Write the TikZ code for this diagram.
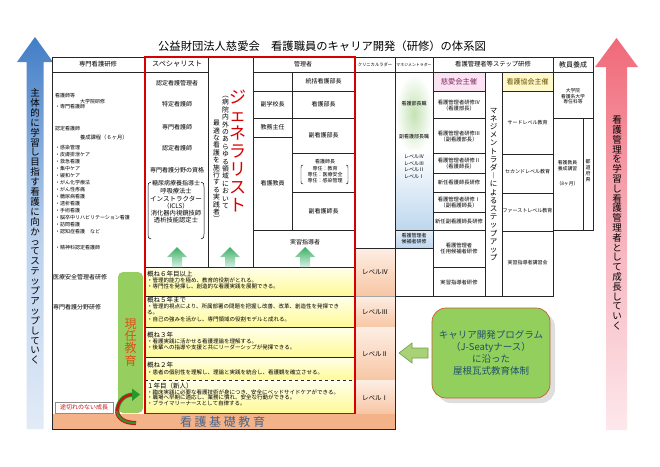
\documentclass[tikz,border=0pt]{standalone}
\usepackage{fontspec}
\setmainfont{Noto Sans CJK JP}
\usetikzlibrary{arrows.meta,shadows}
\definecolor{redb}{RGB}{214,0,0}
\definecolor{bluA}{RGB}{66,125,198}
\definecolor{bluB}{RGB}{185,208,236}
\definecolor{bluC}{RGB}{226,235,247}
\definecolor{pnkA}{RGB}{240,105,120}
\definecolor{pnkB}{RGB}{247,178,188}
\definecolor{pnkC}{RGB}{253,232,236}
\definecolor{ylt}{RGB}{255,255,236}
\definecolor{ydk}{RGB}{255,250,150}
\definecolor{lvt}{RGB}{253,238,228}
\definecolor{lvb}{RGB}{247,198,164}
\definecolor{bandc}{RGB}{244,178,136}
\definecolor{bandtxt}{RGB}{70,100,140}
\definecolor{mgG}{RGB}{196,226,180}
\definecolor{mgB}{RGB}{189,215,238}
\definecolor{mgBl}{RGB}{228,238,248}
\definecolor{pnkcell}{RGB}{250,226,242}
\definecolor{pnktxt}{RGB}{125,40,95}
\definecolor{ylwcell}{RGB}{255,248,200}
\definecolor{ylwtxt}{RGB}{95,75,0}
\definecolor{genG}{RGB}{150,206,96}
\definecolor{genT}{RGB}{222,80,20}
\definecolor{garrA}{RGB}{60,175,100}
\definecolor{garrB}{RGB}{215,240,228}
\definecolor{progF}{RGB}{147,207,92}
\definecolor{progD}{RGB}{200,90,50}
\definecolor{progT}{RGB}{30,80,110}
\definecolor{lgA}{RGB}{169,209,120}
\definecolor{lgB}{RGB}{110,160,70}
\definecolor{curG}{RGB}{40,150,40}
\definecolor{curR}{RGB}{200,20,20}
\newcommand\fz[1]{\fontsize{#1}{#1}\selectfont}
\newcommand\VStack[2]{\vbox{\baselineskip=#1pt\lineskiplimit=-100pt\lineskip=0pt\relax\VStackAux#2\relax}}
\def\VStackAux#1{\ifx\relax#1\else\hbox to 1em{\hss#1\hss}\expandafter\VStackAux\fi}
\newcommand\UpArr[1]{\shade[top color=garrA, bottom color=garrB] (#1,247) -- (#1+10,257) -- (#1+5,257) -- (#1+5,267) -- (#1-5,267) -- (#1-5,257) -- (#1-10,257) -- cycle;}
\begin{document}
\begin{tikzpicture}[x=1pt,y=-1pt,
  ct/.style={inner sep=0pt, outer sep=0pt},
  lt/.style={inner sep=0pt, outer sep=0pt, anchor=west},
  gl/.style={line width=0.55pt, draw=black!85}]
\useasboundingbox (0,0) rectangle (660,466);
\fill[white] (0,0) rectangle (660,466);

% side arrows
\shade[top color=bluA, bottom color=bluC, middle color=bluB] (26.5,429) -- (26.5,62) -- (17,62) -- (35,37) -- (53,62) -- (43.5,62) -- (43.5,429) -- cycle;
\shade[top color=pnkA, bottom color=pnkC, middle color=pnkB] (606,430) -- (606,67) -- (595,67) -- (616.5,38) -- (638,67) -- (627,67) -- (627,430) -- cycle;
\node[ct, font=\fz{9.5}] (lefttxt) at (35,226.5) {\VStack{9.9}{主体的に学習し目指す看護に向かってステップアップしていく}};
\node[ct, font=\fz{9.5}] (righttxt) at (617,223) {\VStack{9.8}{看護管理を学習し看護管理者として成長していく}};

% title
\node[ct, font=\fz{11.3}] (title) at (322,46) {公益財団法人慈愛会　看護職員のキャリア開発（研修）の体系図};

% fills
\shade[top color=ylt, bottom color=ydk] (145,267) rectangle (355,296);
\shade[top color=ylt, bottom color=ydk] (145,296) rectangle (355,327);
\shade[top color=ylt, bottom color=ydk] (145,327) rectangle (355,357);
\shade[top color=ylt, bottom color=ydk] (145,357) rectangle (355,380);
\shade[top color=ylt, bottom color=ydk] (145,380) rectangle (355,413.5);
\shade[top color=lvt, bottom color=lvb] (355,248) rectangle (395,296);
\shade[top color=lvt, bottom color=lvb] (355,296) rectangle (395,327);
\shade[top color=lvt, bottom color=lvb] (355,327) rectangle (395,380);
\shade[top color=lvt, bottom color=lvb] (355,380) rectangle (395,413.5);
\fill[bandc] (52,413.5) rectangle (395,429.5);
\shade[inner color=mgG, outer color=white] (395.5,74) rectangle (432.5,154);
\shade[top color=white, bottom color=mgB] (395.5,150) rectangle (432.5,230);
\shade[top color=mgBl, bottom color=mgB] (395.5,230) rectangle (432.5,248);
\fill[pnkcell] (433,72) rectangle (485,91);
\fill[ylwcell] (502,72) rectangle (553,91);

% grid
\draw[gl] (52,57) -- (593,57);
\draw[gl] (52,72) -- (208,72);
\draw[gl] (253,72) -- (593,72);
\draw[gl] (52,57) -- (52,429.5) -- (395,429.5) -- (395,57);
\draw[gl] (593,57) -- (593,230) -- (553,230);
\draw[gl] (553,57) -- (553,296) -- (395,296);
\draw[gl] (553,118) -- (593,118);
\draw[gl] (583,118) -- (583,230);
\draw[gl] (208,57) -- (208,267);
\draw[gl] (253,57) -- (253,267);
\draw[gl] (292,72) -- (292,230);
\draw[gl] (253,91) -- (355,91);
\draw[gl] (253,118) -- (355,118);
\draw[gl] (253,137) -- (292,137);
\draw[gl] (292,153) -- (355,153);
\draw[gl] (292,192) -- (355,192);
\draw[gl] (253,230) -- (355,230);
\draw[gl] (145,267) -- (355,267);
\draw[gl] (433,57) -- (433,296);
\draw[gl] (485,72) -- (485,296);
\draw[gl] (502,72) -- (502,296);
\draw[gl] (355,248) -- (395,248);
\draw[gl] (395,230) -- (433,230);
\draw[gl] (395,248) -- (433,248);
\foreach \yy in {91,118,153,173,192,212,230,267} \draw[gl] (433,\yy) -- (485,\yy);
\foreach \yy in {91,154,193,231} \draw[gl] (502,\yy) -- (553,\yy);
\draw[gl] (145,296) -- (355,296);
\draw[gl] (145,327) -- (355,327);
\draw[gl] (145,357) -- (355,357);
\draw[gl, dashed] (145,380) -- (355,380);
\draw[line width=0.3pt, black!35] (355,296) -- (395,296);
\draw[line width=1.6pt, redb] (145,57) rectangle (355,413.5);

% headers
\node[ct, font=\fz{6.3}] (h1) at (98,64.5) {専門看護研修};
\node[ct, font=\fz{7.2}] (h2) at (177,64.5) {スペシャリスト};
\node[ct, font=\fz{6}] (h3) at (303,64.5) {管理者};
\node[ct, font=\fz{4.3}] (h4) at (375,64.5) {クリニカルラダー};
\node[ct, font=\fz{3.9}] (h5) at (414,64.5) {マネジメントラダー};
\node[ct, font=\fz{6.3}] (h6) at (493,64.5) {看護管理者等ステップ研修};
\node[ct, font=\fz{7}] (h7) at (573,64.5) {教員養成};

% left column
\node[lt, font=\fz{5}] (l1) at (55,96) {看護師等};
\node[lt, font=\fz{5}] (l2) at (80,101.5) {大学院研修};
\node[lt, font=\fz{5}] (l3) at (55,107) {・専門看護師};
\node[lt, font=\fz{5}] (l4) at (55,129) {認定看護師};
\node[lt, font=\fz{5.3}] (l5) at (80,137) {養成課程（６ヶ月）};
\foreach \t [count=\i from 0] in {・感染管理,・皮膚排泄ケア,・救急看護,・集中ケア,・緩和ケア,・がん化学療法,・がん性疼痛,・糖尿病看護,・透析看護,・手術看護,・脳卒中リハビリテーション看護,・訪問看護,・認知症看護　など}
  \node[lt, font=\fz{5}] (lst\i) at (55,148+7*\i) {\t};
\node[lt, font=\fz{5}] (l6) at (55,248) {・精神科認定看護師};
\node[lt, font=\fz{6}] (l7) at (53,277) {医療安全管理者研修};
\node[lt, font=\fz{6}] (l8) at (53,307) {専門看護分野研修};

% specialist column
\node[ct, font=\fz{6}] (s1) at (177,83) {認定看護管理者};
\node[ct, font=\fz{6}] (s2) at (177,104) {特定看護師};
\node[ct, font=\fz{6}] (s3) at (177,127) {専門看護師};
\node[ct, font=\fz{6}] (s4) at (177,148) {認定看護師};
\node[ct, font=\fz{6}] (s5) at (177,170) {専門看護分野の資格};
\node[ct, font=\fz{6}] (s6) at (176,183.5) {糖尿病療養指導士};
\node[ct, font=\fz{6.3}] (s7) at (176,191) {呼吸療法士};
\node[ct, font=\fz{6.5}] (s8) at (176,198.5) {インストラクター};
\node[ct, font=\fz{6.3}] (s9) at (176,206) {（ICLS）};
\node[ct, font=\fz{6.3}] (s10) at (176,213) {消化器内視鏡技師};
\node[ct, font=\fz{6.3}] (s11) at (176,220.5) {透析技能認定士};
\draw[line width=0.5pt] (151,182) .. controls (148,182) and (148,184) .. (148,187) -- (148,234) .. controls (148,237) and (148,239) .. (151,239);
\draw[line width=0.5pt] (201,182) .. controls (204,182) and (204,184) .. (204,187) -- (204,234) .. controls (204,237) and (204,239) .. (201,239);

% generalist column
\node[ct, font=\fz{17}, text=redb] (gen) at (237.5,151) {\VStack{18}{ジェネラリスト}};
\node[ct, font=\fz{6.8}] (genp1) at (225.5,152.5) {\VStack{7.4}{︵病院内外のあらゆる領域において}};
\node[ct, font=\fz{6.8}] (genp2) at (216.5,171) {\VStack{7.4}{最適な看護を施行する実践者︶}};

% manager column
\node[ct, font=\fz{6}] (m1) at (323.5,81.5) {統括看護部長};
\node[ct, font=\fz{6}] (m2) at (272.5,104.5) {副学校長};
\node[ct, font=\fz{6}] (m3) at (323.5,104.5) {看護部長};
\node[ct, font=\fz{6}] (m4) at (272.5,127.5) {教務主任};
\node[ct, font=\fz{6}] (m5) at (323.5,135.5) {副看護部長};
\node[ct, font=\fz{6}] (m6) at (272.5,183) {看護教員};
\node[ct, font=\fz{5}] (m7) at (325,162) {看護師長};
\node[ct, font=\fz{5}] (m8) at (325,168.5) {専任：教育};
\node[ct, font=\fz{5}] (m9) at (325,174.5) {専任：医療安全};
\node[ct, font=\fz{5}] (m10) at (325,180.5) {専任：感染管理};
\draw[line width=0.45pt] (303,165) .. controls (301,165) and (301,166) .. (301,168) -- (301,181) .. controls (301,183) and (301,184) .. (303,184);
\draw[line width=0.45pt] (346,165) .. controls (348,165) and (348,166) .. (348,168) -- (348,181) .. controls (348,183) and (348,184) .. (346,184);
\node[ct, font=\fz{6}] (m11) at (323.5,211) {副看護師長};
\node[ct, font=\fz{6}] (m12) at (305,242) {実習指導者};

\UpArr{177}
\UpArr{230}
\UpArr{305}

% yellow rows
\node[lt, font=\fz{6.5}] (y1h) at (147,274) {概ね６年目以上};
\node[lt, font=\fz{5.5}] (y1a) at (147,280.5) {・管理的能力を極め、教育的役割がとれる。};
\node[lt, font=\fz{5.5}] (y1b) at (147,286) {・専門性を発揮し、創造的な看護実践を展開できる。};
\node[lt, font=\fz{6.5}] (y2h) at (147,300.5) {概ね５年まで};
\node[lt, font=\fz{5.5}] (y2a) at (147,306.5) {・管理的視点により、所属部署の問題を把握し改善、改革、創造性を発揮でき};
\node[lt, font=\fz{5.5}] (y2b) at (147,312.5) {る。};
\node[lt, font=\fz{5.5}] (y2c) at (147,319.5) {・自己の強みを活かし、専門領域の役割モデルと成れる。};
\node[lt, font=\fz{6.5}] (y3h) at (147,335.5) {概ね３年};
\node[lt, font=\fz{5.5}] (y3a) at (147,341.5) {・看護実践に活かせる看護理論を理解する。};
\node[lt, font=\fz{5.5}] (y3b) at (147,347) {・後輩への指導や支援と共にリーダーシップが発揮できる。};
\node[lt, font=\fz{6.5}] (y4h) at (147,365) {概ね２年};
\node[lt, font=\fz{5.5}] (y4a) at (147,372) {・患者の個別性を理解し、理論と実践を統合し、看護観を確立させる。};
\node[lt, font=\fz{6.5}] (y5h) at (147,386) {１年目（新人）};
\node[lt, font=\fz{5.5}] (y5a) at (147,392) {・臨床実践に必要な看護技術が身につき、安全にベッドサイドケアができる。};
\node[lt, font=\fz{5.5}] (y5b) at (147,397.5) {・職場へ早期に適応し、業務に慣れ、安全な行動ができる。};
\node[lt, font=\fz{5.5}] (y5c) at (147,403) {・プライマリーナースとして自律する。};

% levels
\node[ct, font=\fz{6.5}] (lv4) at (375,272) {レベルⅣ};
\node[ct, font=\fz{6.5}] (lv3) at (375,312) {レベルⅢ};
\node[ct, font=\fz{6.5}] (lv2) at (375,354) {レベルⅡ};
\node[ct, font=\fz{6.5}] (lv1) at (375,398) {レベルⅠ};

% management ladder
\node[ct, font=\fz{5}] (ml1) at (414,104) {看護部長職};
\node[ct, font=\fz{5}] (ml2) at (414,137) {副看護部長職};
\node[lt, font=\fz{5}] (ml3) at (404,157) {レベルⅣ};
\node[lt, font=\fz{5}] (ml4) at (404,163.5) {レベルⅢ};
\node[lt, font=\fz{5}] (ml5) at (404,170) {レベルⅡ};
\node[lt, font=\fz{5}] (ml6) at (404,176.5) {レベルⅠ};
\node[ct, font=\fz{5}] (ml7) at (414,235.5) {看護管理者};
\node[ct, font=\fz{5}] (ml8) at (414,242) {候補者研修};

% jiaikai column
\node[ct, font=\fz{7.3}, text=pnktxt] (j0) at (459,81.5) {慈愛会主催};
\node[ct, font=\fz{5.3}] (j1) at (459,102) {看護管理者研修Ⅳ};
\node[ct, font=\fz{5.3}] (j1b) at (459,108) {（看護部長）};
\node[ct, font=\fz{5.3}] (j2) at (459,133) {看護管理者研修Ⅲ};
\node[ct, font=\fz{5.3}] (j2b) at (459,139) {（副看護部長）};
\node[ct, font=\fz{5.3}] (j3) at (459,160) {看護管理者研修Ⅱ};
\node[ct, font=\fz{5.3}] (j3b) at (459,166) {（看護師長）};
\node[ct, font=\fz{5.3}] (j4) at (459,182.5) {新任看護師長研修};
\node[ct, font=\fz{5.3}] (j5) at (459,199) {看護管理者研修Ⅰ};
\node[ct, font=\fz{5.3}] (j5b) at (459,205) {（副看護師長）};
\node[ct, font=\fz{5.3}] (j6) at (459,221) {新任副看護師長研修};
\node[ct, font=\fz{5.3}] (j7) at (459,245) {看護管理者};
\node[ct, font=\fz{5.3}] (j7b) at (459,251.5) {任用候補者研修};
\node[ct, font=\fz{5.3}] (j8) at (459,282) {実習指導者研修};
\node[ct, font=\fz{7.5}] (mvert) at (493.5,184.5) {\VStack{8.2}{マネジメントラダ︱によるステップアップ}};

% kango kyokai column
\node[ct, font=\fz{7}, text=ylwtxt] (k0) at (527.5,81.5) {看護協会主催};
\node[ct, font=\fz{5}] (k1) at (527.5,123) {サードレベル教育};
\node[ct, font=\fz{5}] (k2) at (527.5,172) {セカンドレベル教育};
\node[ct, font=\fz{5}] (k3) at (527.5,211) {ファーストレベル教育};
\node[ct, font=\fz{5}] (k4) at (527.5,263) {実習指導者講習会};

% teacher column
\node[ct, font=\fz{4.8}] (t1) at (573,91) {大学院};
\node[ct, font=\fz{4.8}] (t2) at (573,96.5) {看護系大学};
\node[ct, font=\fz{4.8}] (t3) at (573,102) {専任科等};
\node[ct, font=\fz{4.8}] (t4) at (567.5,163) {看護教員};
\node[ct, font=\fz{4.8}] (t5) at (567.5,168.5) {養成講習};
\node[ct, font=\fz{4.8}] (t6) at (567.5,184) {（8ヶ月）};
\node[ct, font=\fz{5}] (t7) at (588,171) {\VStack{6}{都道府県}};

% genin kyoiku box
\node[ct, fill=genG, rounded corners=5pt, minimum width=25pt, minimum height=141pt, font=\fz{12}, text=genT] (genin) at (130.5,342.5) {\VStack{12.3}{現任教育}};

% band text
\node[ct, font=\fz{12}, text=bandtxt] (band) at (222.5,421.5) {看\hspace{2.6pt}護\hspace{2.6pt}基\hspace{2.6pt}礎\hspace{2.6pt}教\hspace{2.6pt}育};

% togire box
\node[ct, draw=black!45, line width=0.4pt, fill=white, minimum width=58pt, minimum height=11pt, font=\fz{6}, text=curR] (togire) at (84,407.5) {途切れのない成長};

% curved arrows
\draw[line width=4.2pt, curG] (117,411) .. controls (118,401) and (124,395) .. (133,394.5);
\draw[line width=2.4pt, curR] (117,411) .. controls (118,401) and (124,395) .. (133,394.5);
\fill[curG] (132,388.5) -- (140,394.5) -- (132,401) -- cycle;
\draw[line width=4.2pt, curR] (117,411) .. controls (118,419) and (125,423) .. (136,423);
\draw[line width=2pt, curG] (117,411) .. controls (118,419) and (125,423) .. (136,423);

% left green arrow
\draw[fill=lgA, draw=lgB, line width=0.6pt] (399,353) -- (412,343) -- (412,348) -- (428,348) -- (428,358) -- (412,358) -- (412,363) -- cycle;

% program box
\node[ct, fill=progF, draw=progD, line width=0.7pt, rounded corners=14pt, minimum width=118pt, minimum height=90pt, align=center, font=\fontsize{9.5}{12}\selectfont, text=progT, drop shadow={shadow xshift=5pt, shadow yshift=-5pt, fill=black!25}] (prog) at (491,353) {キャリア開発プログラム\\（J-Seatyナース）\\に沿った\\屋根瓦式教育体制};
\end{tikzpicture}
\end{document}
